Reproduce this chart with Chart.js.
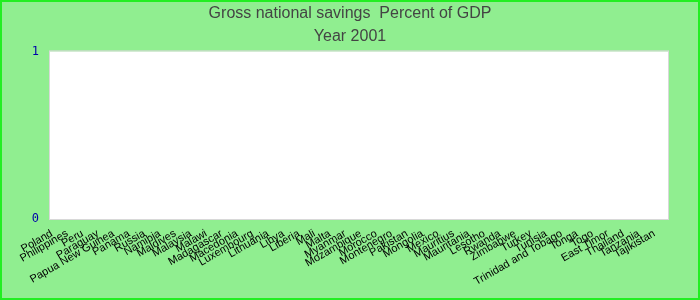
<!DOCTYPE html>
<html>
<head>
<meta charset="utf-8">
<script src="https://cdn.jsdelivr.net/npm/chart.js@4/dist/chart.umd.min.js"></script>
<style>
  html, body { margin: 0; padding: 0; background: #90ee90; }
  #wrap { width: 700px; height: 300px; }
</style>
</head>
<body>
<div id="wrap"><canvas id="savingsChart" width="700" height="300"></canvas></div>
<script>
// Countries along the x axis, in the order they appear
const countries = [
    'Poland', 'Philippines', 'Peru', 'Paraguay', 'Papua New Guinea', 'Panama',
    'Russia', 'Namibia', 'Maldives', 'Malaysia', 'Malawi', 'Madagascar',
    'Macedonia', 'Luxembourg', 'Lithuania', 'Libya', 'Liberia', 'Mali',
    'Malta', 'Myanmar', 'Mozambique', 'Morocco', 'Montenegro', 'Pakistan',
    'Mongolia', 'Mexico', 'Mauritius', 'Mauritania', 'Lesotho', 'Rwanda',
    'Zimbabwe', 'Turkey', 'Tunisia', 'Trinidad and Tobago', 'Tonga', 'Togo',
    'East Timor', 'Thailand', 'Tanzania', 'Tajikistan'
]

// No values are shown for 2001, so every bar is empty
const savings = [
    null, null, null, null, null, null, null, null, null, null,
    null, null, null, null, null, null, null, null, null, null,
    null, null, null, null, null, null, null, null, null, null,
    null, null, null, null, null, null, null, null, null, null
]

const yTicks = [0, 1]

const titleText = 'Gross national savings  Percent of GDP'
const subtitleText = 'Year 2001'

// Paints the green page, the lime frame and the white plot box
const backdrop = {
    id: 'backdrop',
    beforeDraw(chart) {
        const {ctx, chartArea: a, width, height} = chart
        ctx.save()
        ctx.fillStyle = '#90ee90'
        ctx.fillRect(0, 0, width, height)
        ctx.strokeStyle = '#22ee22'
        ctx.lineWidth = 2
        ctx.strokeRect(1, 1, width - 2, height - 2)
        ctx.fillStyle = '#ffffff'
        ctx.fillRect(a.left, a.top, a.right - a.left, a.bottom - a.top)
        ctx.strokeStyle = '#d8d8d8'
        ctx.lineWidth = 1
        ctx.strokeRect(a.left - 0.5, a.top - 0.5, a.right - a.left + 1, a.bottom - a.top + 1)
        ctx.restore()
    }
}

const ctx = document.getElementById('savingsChart').getContext('2d')

const savingsChart = new Chart(ctx, {
    type: 'bar',
    data: {
        labels: countries,
        datasets: [{
            label: 'Gross national savings',
            data: savings,
            backgroundColor: '#3366cc'
        }]
    },
    options: {
        responsive: false,
        animation: false,
        layout: { padding: 0 },
        plugins: {
            legend: { display: false },
            tooltip: { enabled: false },
            title: {
                display: true,
                text: titleText,
                color: '#444444',
                font: { family: 'Liberation Sans', size: 16, weight: 'normal' },
                padding: { top: 4, bottom: 4 }
            },
            subtitle: {
                display: true,
                text: subtitleText,
                color: '#444444',
                font: { family: 'Liberation Sans', size: 16, weight: 'normal' },
                padding: { top: 0, bottom: 5 }
            }
        },
        scales: {
            x: {
                grid: { display: false },
                border: { display: false },
                ticks: {
                    autoSkip: false,
                    minRotation: 30,
                    maxRotation: 30,
                    labelOffset: -6,
                    color: '#000000',
                    padding: 0,
                    font: { family: 'Liberation Sans', size: 11 }
                },
                afterFit(scale) { scale.height = 81 }
            },
            y: {
                min: 0,
                max: 1,
                grid: { display: false, drawTicks: false },
                border: { display: false },
                afterBuildTicks(scale) { scale.ticks = yTicks.map(v => ({value: v})) },
                ticks: {
                    color: '#0000aa',
                    padding: 11,
                    font: { family: 'DejaVu Sans Mono', size: 12 }
                },
                afterFit(scale) { scale.width = 50 }
            },
            // empty axis that only keeps the gap on the right of the plot
            yRight: {
                position: 'right',
                min: 0,
                max: 1,
                grid: { display: false, drawTicks: false },
                border: { display: false },
                ticks: { display: false },
                afterFit(scale) { scale.width = 32 }
            }
        }
    },
    plugins: [backdrop]
})
</script>
</body>
</html>
